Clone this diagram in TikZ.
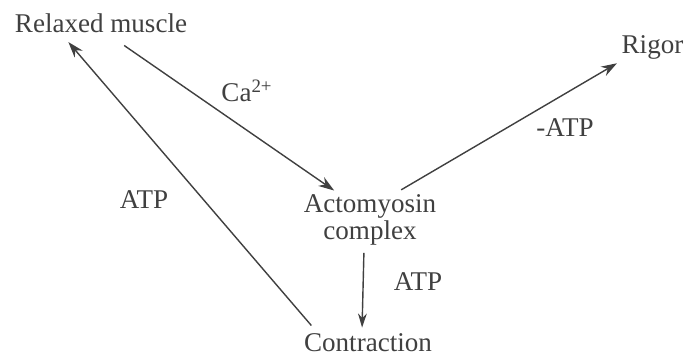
\documentclass[tikz,border=0pt]{standalone}
\usepackage{fontspec}
\setmainfont{Liberation Serif}
\usetikzlibrary{arrows,arrows.meta}

\begin{document}
\begin{tikzpicture}[every node/.style={font=\fontsize{15.4}{17}\selectfont,text=black!75,inner sep=2pt}]
\useasboundingbox (0,0) rectangle (13.78,7.12);

\node (relaxed) at (2.02,6.66) {Relaxed muscle};
\node[align=center] (acto) at (7.40,2.72) {Actomyosin\\[-2pt]complex};
\node (rigor) at (13.05,6.18) {Rigor};
\node (contr) at (7.36,0.26) {Contraction};

\path[->,black!75, >={Stealth[length=9pt,width=6pt]},thick] ([xshift=0.20cm]relaxed.south) edge [shorten <=0.32cm, shorten >=0.02cm] ([xshift=-0.70cm]acto.north);
\path[->,black!75, >={Stealth[length=9pt,width=6pt]},thick] ([xshift=0.58cm]acto.north) edge [shorten <=0.05cm, shorten >=0.02cm] (rigor.south west);
\path[->,black!75, >={Stealth[length=8pt,width=5pt]},thick] ([xshift=-0.12cm]acto.south) edge [shorten <=0.08cm, shorten >=0.05cm] ([xshift=-0.12cm]contr.north);
\path[->,black!75, >={Stealth[length=9pt,width=6pt]},thick] ([xshift=0.3cm]contr.north west) edge [shorten <=0.12cm, shorten >=0.15cm] ([xshift=-0.75cm]relaxed.south);

\node at (4.94,5.30) {Ca\textsuperscript{2+}};
\node at (11.30,4.56) {-ATP};
\node at (2.88,3.12) {ATP};
\node at (8.36,1.48) {ATP};

\end{tikzpicture}
\end{document}
